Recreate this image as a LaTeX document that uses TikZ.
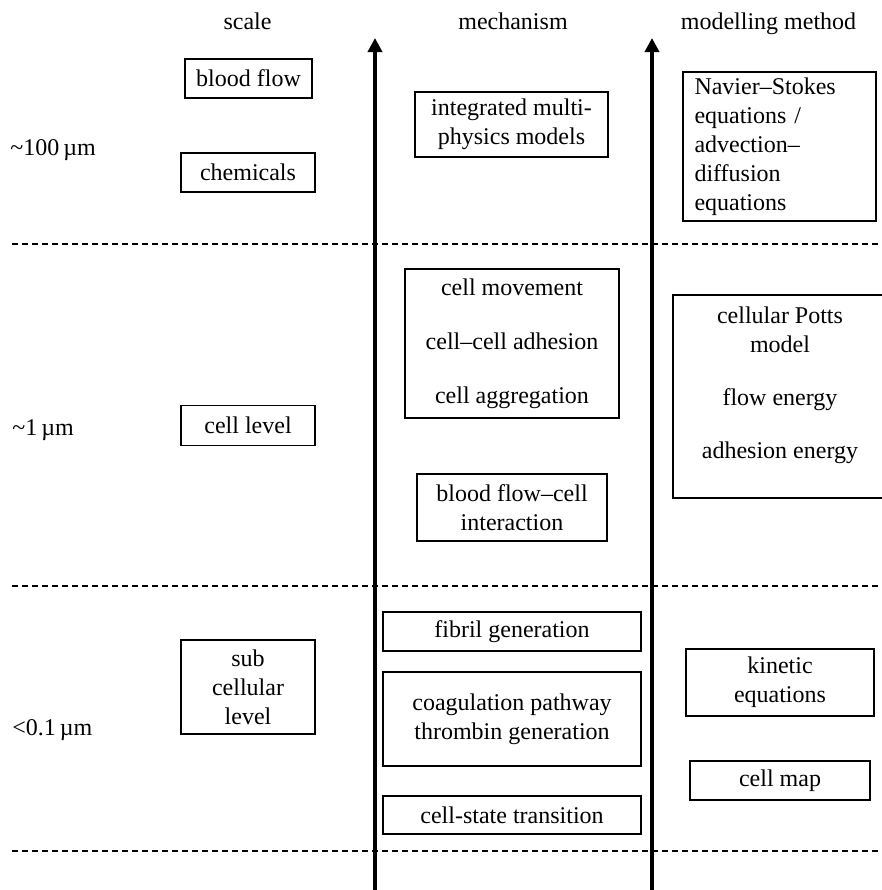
\documentclass[tikz,border=0pt]{standalone}
\usepackage{fontspec}
\setmainfont{Liberation Serif}
\usetikzlibrary{arrows.meta}
\begin{document}
\begin{tikzpicture}[x=0.5pt,y=-0.5pt,
  every node/.style={font=\fontsize{12}{14.5}\selectfont, inner sep=0pt},
  box/.style={draw, line width=0.6pt, align=center, inner sep=0pt},
  plain/.style={align=center},
  divider/.style={dash pattern=on 3pt off 2pt, line width=0.9pt},
  axis/.style={line width=2pt, -{Triangle[width=7pt,length=7pt]}}
]
\useasboundingbox (0,0) rectangle (882,890);
\clip (0,0) rectangle (882,890);

% dashed dividers
\coordinate (d1a) at (12,244);  \coordinate (d1b) at (882,244);
\coordinate (d2a) at (12,586);  \coordinate (d2b) at (882,586);
\coordinate (d3a) at (12,851);  \coordinate (d3b) at (882,851);
\draw[divider] (d1a) -- (d1b);
\draw[divider] (d2a) -- (d2b);
\draw[divider] (d3a) -- (d3b);

% headers
\node[anchor=base] (hscale) at (247.5,29) {scale};
\node[anchor=base] (hmech) at (513,29) {mechanism};
\node[anchor=base] (hmodel) at (768.5,29) {modelling method};

% scale labels
\node[anchor=base west] (s100) at (10,155) {\textasciitilde100\,µm};
\node[anchor=base west] (s1) at (12,435) {\textasciitilde1\,µm};
\node[anchor=base west] (s01) at (12,735) {<0.1\,µm};

% scale column boxes
\node[box, minimum width=63.5pt, minimum height=19.5pt] (bloodflow) at (248.5,78.5) {blood flow};
\node[box, minimum width=67pt, minimum height=19.5pt] (chemicals) at (248,172.5) {chemicals};
\node[box, minimum width=67pt, minimum height=20pt] (celllevel) at (248,425.7) {cell level};
\node[box, minimum width=67pt, minimum height=47pt] (subcell) at (248,687) {sub\\cellular\\level};

% mechanism column boxes
\node[box, minimum width=96.5pt, minimum height=32.5pt] (integrated) at (511.5,124.5) {integrated multi-\\physics models};
\node[box, minimum width=107pt, minimum height=74.5pt] (cellmove) at (512,343.5) {cell movement\\[12.5pt]cell--cell adhesion\\[12.5pt]cell aggregation};
\node[box, minimum width=95pt, minimum height=33.5pt] (bfcell) at (512,507.5) {blood flow--cell\\interaction};
\node[box, minimum width=129pt, minimum height=19.5pt] (fibril) at (512,631.5) {fibril generation};
\node[box, minimum width=129pt, minimum height=47pt] (coag) at (512,719) {coagulation pathway\\thrombin generation};
\node[box, minimum width=129pt, minimum height=19pt] (cellstate) at (512,815) {cell-state transition};

% modelling method column boxes
\node[box, align=left, text width=85pt, minimum width=96.5pt, minimum height=74.5pt] (navier) at (779.5,146.5) {Navier--Stokes\\equations /\\advection--\\diffusion\\equations};
\node[box, minimum width=107pt, minimum height=101.5pt] (cpotts) at (780,396.5) {};
\node[plain] (cpottstext) at (780,385) {cellular Potts\\model\\[12pt]flow energy\\[12pt]adhesion energy};
\node[box, minimum width=94pt, minimum height=33.5pt] (kinetic) at (780,682.5) {kinetic\\equations};
\node[box, minimum width=90pt, minimum height=19.5pt] (cellmap) at (780,780.5) {cell map};

% vertical axes
\coordinate (a1s) at (375,890); \coordinate (a1e) at (375,38);
\coordinate (a2s) at (652,890); \coordinate (a2e) at (652,38);
\draw[axis] (a1s) -- (a1e);
\draw[axis] (a2s) -- (a2e);
\end{tikzpicture}
\end{document}
